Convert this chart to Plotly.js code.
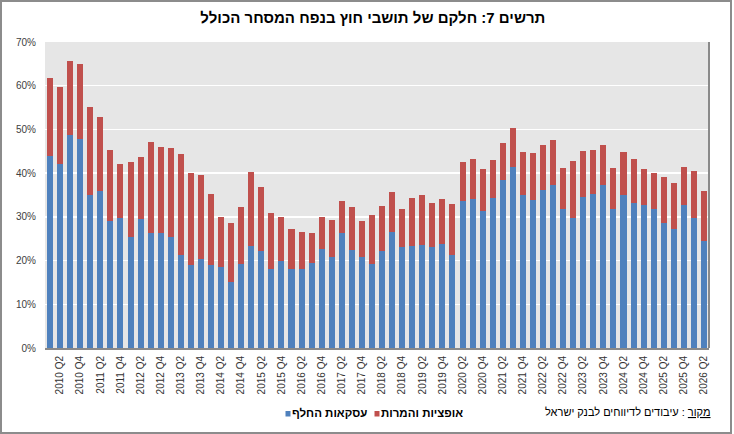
<!DOCTYPE html>
<html>
<head>
<meta charset="utf-8">
<script src="https://cdn.plot.ly/plotly-3.0.1.min.js"></script>
<style>
html,body{margin:0;padding:0;background:#fff;}
#chart{width:734px;height:434px;}
</style>
</head>
<body>
<div id="chart"></div>
<script>
const quarters = [
  "2010 Q1","2010 Q2","2010 Q3","2010 Q4","2011 Q1","2011 Q2","2011 Q3","2011 Q4",
  "2012 Q1","2012 Q2","2012 Q3","2012 Q4","2013 Q1","2013 Q2","2013 Q3","2013 Q4",
  "2014 Q1","2014 Q2","2014 Q3","2014 Q4","2015 Q1","2015 Q2","2015 Q3","2015 Q4",
  "2016 Q1","2016 Q2","2016 Q3","2016 Q4","2017 Q1","2017 Q2","2017 Q3","2017 Q4",
  "2018 Q1","2018 Q2","2018 Q3","2018 Q4","2019 Q1","2019 Q2","2019 Q3","2019 Q4",
  "2020 Q1","2020 Q2","2020 Q3","2020 Q4","2021 Q1","2021 Q2","2021 Q3","2021 Q4",
  "2022 Q1","2022 Q2","2022 Q3","2022 Q4","2023 Q1","2023 Q2","2023 Q3","2023 Q4",
  "2024 Q1","2024 Q2","2024 Q3","2024 Q4","2025 Q1","2025 Q2","2025 Q3","2025 Q4",
  "2026 Q1","2026 Q2"
];

// swaps (blue)
const swaps = [
  44.0,42.2,48.7,47.7,34.9,35.9,29.1,29.8,
  25.4,29.4,26.2,26.3,25.4,21.3,19.0,20.4,
  18.9,18.6,15.2,19.3,23.4,22.1,18.1,19.8,
  18.0,18.0,19.5,22.7,20.9,26.2,22.5,20.9,
  19.3,22.2,26.6,23.0,23.4,23.6,23.0,23.9,
  21.2,33.6,34.1,31.4,34.4,38.5,41.4,35.0,
  33.9,36.2,37.3,31.7,29.8,34.6,35.3,37.3,
  31.7,34.9,33.2,32.6,31.7,28.6,27.2,32.6,
  29.8,24.5
];

// options and conversions (red)
const options = [
  17.7,17.5,16.9,17.3,20.2,16.9,16.2,12.3,
  17.1,14.3,20.9,19.7,20.3,23.1,21.0,19.2,
  16.3,11.4,13.4,13.0,16.9,14.7,12.8,10.2,
  9.2,8.6,6.8,7.3,8.4,7.4,9.8,8.2,
  11.1,10.3,9.1,8.8,10.9,11.4,10.2,10.2,
  11.8,8.9,9.1,9.5,8.6,8.4,8.9,9.8,
  10.7,10.2,10.3,9.5,13.0,10.5,10.0,9.1,
  9.5,9.9,10.0,8.3,8.3,10.5,10.5,8.8,
  10.7,11.4
];

const tickQuarters = [
  "2010 Q2","2010 Q4","2011 Q2","2011 Q4","2012 Q2","2012 Q4","2013 Q2","2013 Q4",
  "2014 Q2","2014 Q4","2015 Q2","2015 Q4","2016 Q2","2016 Q4","2017 Q2","2017 Q4",
  "2018 Q2","2018 Q4","2019 Q2","2019 Q4","2020 Q2","2020 Q4","2021 Q2","2021 Q4",
  "2022 Q2","2022 Q4","2023 Q2","2023 Q4","2024 Q2","2024 Q4","2025 Q2","2025 Q4",
  "2026 Q2"
];

const yTicks = [0,10,20,30,40,50,60,70];
const yTickLabels = ["0%","10%","20%","30%","40%","50%","60%","70%"];

const seriesNames = ["עסקאות החלף","אופציות והמרות"];
const seriesColors = ["#4f81bd","#c0504d"];
const titleText = "<b>תרשים 7: חלקם של תושבי חוץ בנפח המסחר הכולל</b>";
const sourceText = "<span style=\"text-decoration:underline\">מקור</span> : עיבודים לדיווחים לבנק ישראל";

const FONT = "Arial, 'Liberation Sans', 'DejaVu Sans', sans-serif";

// pixel -> paper helpers (plot area: x 45..709, y 42..348)
const px = v => (v-45)/664;
const py = v => (348-v)/306;

const traces = [
  {type:'bar', x:quarters, y:swaps, name:seriesNames[0],
   marker:{color:seriesColors[0], line:{width:0}}, hoverinfo:'skip'},
  {type:'bar', x:quarters, y:options, name:seriesNames[1],
   marker:{color:seriesColors[1], line:{width:0}}, hoverinfo:'skip'}
];

const legendItems = [
  {sq:285.5, tx:289.5},
  {sq:374.5, tx:378.5}
];

const annotations = [
  {text:sourceText, xref:'paper', yref:'paper',
   x:px(713), y:py(412), xanchor:'right', yanchor:'middle',
   showarrow:false, font:{family:FONT, size:11, color:'#000000'}}
];
const shapes = [
  {type:'line', xref:'paper', yref:'paper', x0:1, x1:1, y0:0, y1:1,
   line:{color:'#8a8a8a', width:2}},
  {type:'rect', xref:'paper', yref:'paper',
   x0:px(1), x1:px(731), y0:py(433), y1:py(1),
   line:{color:'#8c8c8c', width:2}, fillcolor:'rgba(0,0,0,0)'}
];
legendItems.forEach((it,i)=>{
  shapes.push({type:'rect', xref:'paper', yref:'paper',
    x0:px(it.sq), x1:px(it.sq+5), y0:py(416.5), y1:py(411),
    line:{width:0}, fillcolor:seriesColors[i]});
  annotations.push({text:'<b>'+seriesNames[i]+'</b>', xref:'paper', yref:'paper',
    x:px(it.tx), y:py(413), xanchor:'left', yanchor:'middle', showarrow:false,
    font:{family:FONT, size:11.5, color:'#000000'}});
});

const layout = {
  width:734, height:434,
  margin:{l:45, r:25, t:42, b:86},
  paper_bgcolor:'#ffffff',
  plot_bgcolor:'#e6e6e6',
  barmode:'stack',
  bargap:0.4,
  font:{family:FONT, size:10, color:'#404040'},
  title:{text:titleText, x:0.508, xref:'container', xanchor:'center',
         y:1-18/434, yref:'container', yanchor:'middle',
         font:{family:FONT, size:15, color:'#000000'}},
  xaxis:{type:'category', tickvals:tickQuarters, ticktext:tickQuarters,
         tickangle:-90, showgrid:false, zeroline:false,
         showline:true, linecolor:'#8a8a8a', linewidth:2,
         ticks:'', ticklabelstandoff:2,
         tickfont:{family:FONT, size:10, color:'#333333'},
         fixedrange:true},
  yaxis:{range:[0,70], tickmode:'array', tickvals:yTicks, ticktext:yTickLabels,
         showgrid:true, gridcolor:'#ffffff', gridwidth:1.5,
         zeroline:false, showline:false, ticks:'', ticklabelstandoff:8,
         tickfont:{family:FONT, size:10, color:'#404040'},
         fixedrange:true},
  showlegend:false,
  annotations:annotations,
  shapes:shapes
};

Plotly.newPlot('chart', traces, layout, {displayModeBar:false, staticPlot:true});
</script>
</body>
</html>
